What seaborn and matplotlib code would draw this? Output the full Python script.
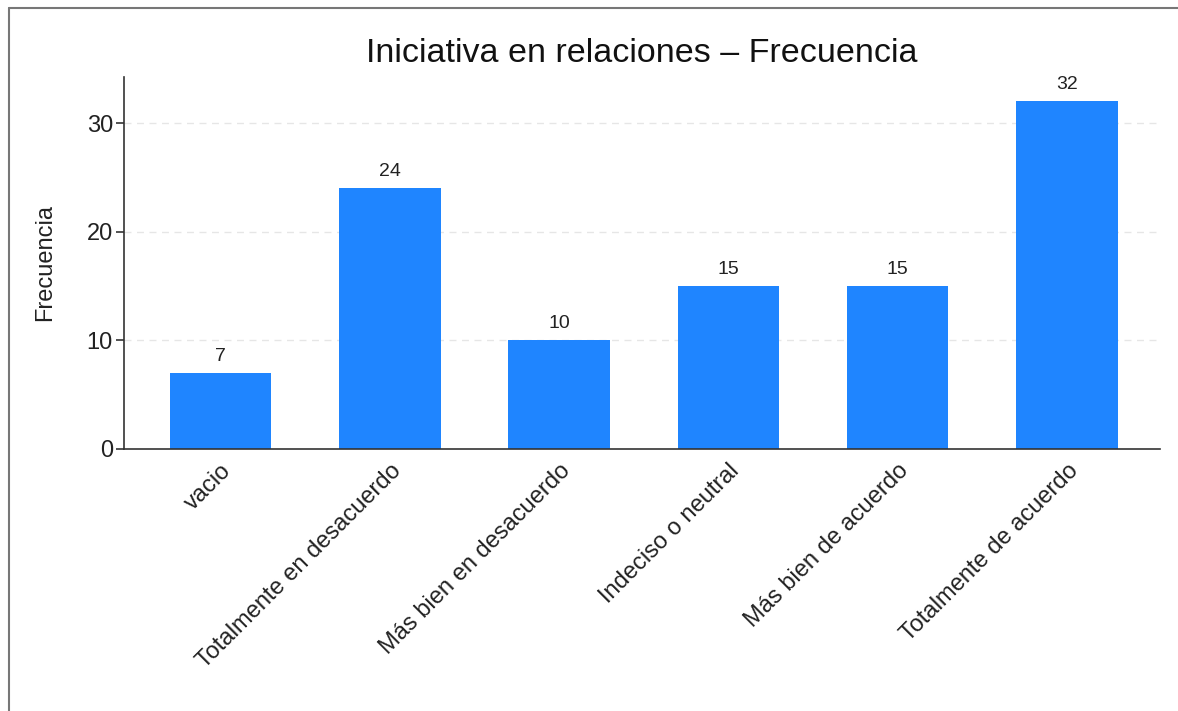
import matplotlib
matplotlib.use("Agg")
import matplotlib.pyplot as plt
import pandas as pd
import seaborn as sns
from matplotlib.lines import Line2D

categorias = [
    "vacio",
    "Totalmente en desacuerdo",
    "Más bien en desacuerdo",
    "Indeciso o neutral",
    "Más bien de acuerdo",
    "Totalmente de acuerdo",
]
frecuencias = [7, 24, 10, 15, 15, 32]

df = pd.DataFrame({"categoria": categorias, "frecuencia": frecuencias})

sns.set_style("white")
plt.rcParams["font.family"] = ["Liberation Sans", "DejaVu Sans"]

fig = plt.figure(figsize=(11.78, 7.11), dpi=100)
ax = fig.add_axes([0.1053, 0.3685, 0.8794, 0.5232])

sns.barplot(data=df, x="categoria", y="frecuencia", color="#1f85ff",
            width=0.6, saturation=1, edgecolor="none", ax=ax)

ax.set_ylim(0, max(frecuencias) * 1.07)
ax.set_xlim(-0.57, 5.55)
ax.set_yticks([0, 10, 20, 30])
ax.yaxis.grid(True, linestyle=(0, (5, 4)), color="#e6e6e6", linewidth=1)
ax.set_axisbelow(True)
for gl in ax.get_ygridlines()[:1]:
    gl.set_visible(False)

for side in ["top", "right"]:
    ax.spines[side].set_visible(False)
for side in ["left", "bottom"]:
    ax.spines[side].set_color("#333333")
    ax.spines[side].set_linewidth(1.2)

ax.tick_params(axis="y", left=True, length=6, width=1.2, color="#333333",
               labelsize=17, pad=2, labelcolor="#222222")
ax.tick_params(axis="x", bottom=False, labelsize=17, pad=4, labelcolor="#222222")
plt.setp(ax.get_xticklabels(), rotation=45, ha="right", rotation_mode="anchor")

ax.bar_label(ax.containers[0], fmt="%d", padding=6, fontsize=14, color="#222222")

ax.set_xlabel("")
ax.set_ylabel("Frecuencia", fontsize=17, labelpad=22, color="#222222")
ax.set_title("Iniciativa en relaciones – Frecuencia", fontsize=24.5, pad=11,
             color="#111111")

# marco exterior (solo borde superior e izquierdo visibles)
fig.add_artist(Line2D([9 / 1178, 1.0], [1 - 8 / 711, 1 - 8 / 711],
                      transform=fig.transFigure, color="#777777", linewidth=1.5))
fig.add_artist(Line2D([9 / 1178, 9 / 1178], [0.0, 1 - 8 / 711],
                      transform=fig.transFigure, color="#777777", linewidth=1.5))

fig.savefig("out.png", dpi=100)
